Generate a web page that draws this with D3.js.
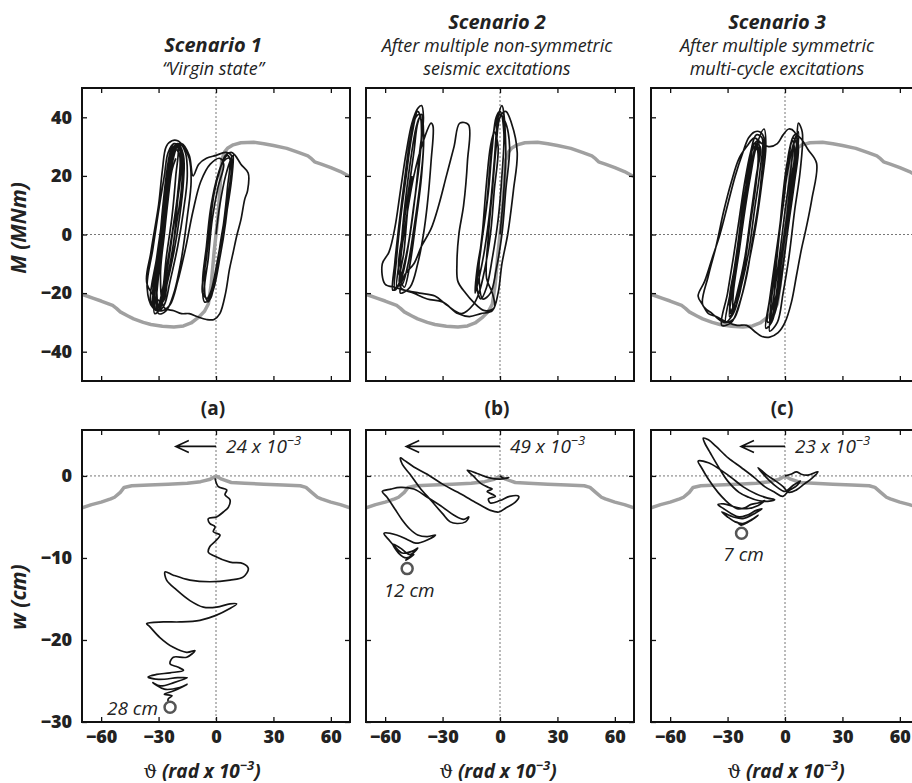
<!DOCTYPE html>
<html>
<head>
<meta charset="utf-8">
<script src="https://d3js.org/d3.v7.min.js"></script>
<style>
body { margin: 0; background: #fff; }
text { font-family: "Open Sans", sans-serif; fill: #222; }
</style>
</head>
<body>
<div id="chart"></div>
<script>
// ---------------- data ----------------
var thetaTicks = [-60, -30, 0, 30, 60];
var momentTicks = [-40, -20, 0, 20, 40];
var settleTicks = [-30, -20, -10, 0];

var scenarioNames = ["Scenario 1", "Scenario 2", "Scenario 3"];
var scenarioNotes = [
    ["\u201CVirgin state\u201D"],
    ["After multiple non-symmetric", "seismic excitations"],
    ["After multiple symmetric", "multi-cycle excitations"]
];
var panelLabels = ["(a)", "(b)", "(c)"];

// gray capacity envelope, theta vs M
var envelopeMoment = [[-70,-20.4],[-64,-21.8],[-60,-22.7],[-54,-24.2],[-52,-25.2],[-50,-26.4],[-46,-27.8],[-43,-28.8],
    [-38,-30.0],[-34,-30.7],[-28,-31.3],[-22,-31.6],[-17,-31.2],[-13,-30.2],[-9,-28.2],[-6,-26.2],[-4,-23.7],[-2.5,-17],
    [-1,-6],[0,0],[1,6],[2,15],[3,25.4],[4.5,28.2],[6,29.4],[9,30.6],[13,31.3],[19.6,31.5],[25,31.0],[30,30.4],[37,29.4],
    [43,28.0],[48,26.8],[50,25.8],[51.5,24.8],[55,24.0],[60,22.8],[65,21.5],[70,19.7]];

// gray settlement envelope, theta vs w
var envelopeSettle = [[-70,-3.9],[-65,-3.5],[-60,-3.2],[-55,-2.8],[-53,-2.6],[-50,-2.0],[-48,-1.4],[-44,-1.2],[-35,-1.1],
    [-25,-1.0],[-15,-0.9],[-8,-0.7],[-3,-0.4],[0,0],[3,-0.4],[8,-0.8],[15,-0.9],[25,-1.0],[35,-1.1],[44,-1.2],[47,-1.4],
    [50,-2.0],[53,-2.6],[55,-2.8],[60,-3.2],[65,-3.5],[70,-3.9]];

// moment-rotation loops, theta vs M
var loops1 = [[0,0],[2,10],[5,20],[8,26],[9,27],[8,18],[5,5],[2,-8],[-1,-18],[-4,-23],[-6,-20],[-4,-8],[-2,5],[1,16],[4,24],
    [2,26],[-3,24],[-8,18],[-12,8],[-16,-5],[-20,-16],[-24,-24],[-28,-26],[-33,-25],[-36,-18],
    [-33,-5],[-30,8],[-27,20],[-25,28],[-22,31],[-19,30],[-18,25],[-20,12],[-23,0],[-26,-12],[-29,-22],[-31,-26],[-33,-24],
    [-31,-12],[-28,2],[-26,15],[-24,26],[-22,30],[-20,31],[-17,27],[-17,18],[-19,6],[-22,-6],[-26,-18],[-29,-25],[-32,-27],
    [-32,-18],[-29,-4],[-27,10],[-25,22],[-23,29],[-19,31],[-16,28],[-15,20],[-17,8],[-20,-4],[-24,-16],[-27,-24],[-30,-26],
    [-34,-23],[-31,-8],[-28,6],[-26,18],[-24,27],[-21,30],[-18,28],[-18,16],[-21,2],[-24,-10],[-27,-20],[-30,-25],
    [-32,-22],[-30,-10],[-27,4],[-25,16],[-23,25],[-21,29],[-19,27],[-20,14],[-23,0],[-26,-14],[-29,-23],[-31,-26],
    [-33,-20],[-30,-6],[-28,8],[-26,20],[-24,28],[-22,31],[-20,30],[-21,20],[-23,6],[-26,-8],[-28,-20],[-30,-25],
    [-31,-16],[-29,-2],[-26,12],[-24,24],[-22,30],[-19,29],[-19,20],[-22,4],[-25,-10],[-28,-21],[-31,-25],
    [-30,-14],[-27,0],[-25,14],[-23,24],[-20,30],[-18,26],[-20,12],[-22,-2],[-25,-14],[-28,-23],
    [-36,-17],[-34,-6],[-30,10],[-28,22],[-26,30],[-23,32],[-20,32],[-17,30],[-14,26],[-13,18],[-15,6],[-18,-8],[-22,-20],
    [-26,-26],[-30,-27],[-31,-18],[-28,-4],[-26,10],[-24,22],[-22,29],[-18,31],[-14,27],[-12,20],[-9,24],[-5,26],[0,27],
    [5,28],[8,27],[7,16],[5,4],[2,-8],[-1,-17],[-3,-22],[-6,-23],[-7,-16],[-5,-4],[-3,8],[0,18],[3,24],[6,27],[8,24],[6,12],
    [3,0],[0,-12],[-3,-20],[-5,-22],[-6,-14],[-4,-2],[-2,10],[1,20],[4,25],[7,26],[6,16],[4,4],[1,-8],[-2,-18],[-4,-22],
    [-7,-20],[-5,-8],[-3,4],[-1,14],[2,22],[5,27],[8,28],[10,27],[13,24],[16.8,21],[16.5,15],[15,12],[13,5],[11,0],[9,-6],
    [7,-12],[5,-20],[2,-27],[-1,-29],[-5,-29],[-10,-28],[-14,-27],[-18,-27],[-22,-26],[-27,-25],[-29,-14],[-27,0],[-25,12],
    [-23,22],[-21,26]];

var loops2 = [[0,0],[2,15],[3,30],[1,44],[-1,40],[-3,25],[-5,10],[-8,-5],[-11,-15],[-13,-20],[-12,-12],[-9,0],[-6,15],
    [-4,30],[-2,40],[0,42],[2,35],[1,20],[-1,5],[-4,-8],[-7,-18],[-10,-22],[-12,-18],[-10,-5],[-7,10],[-5,25],[-3,36],[0,41],
    [3,38],[5,30],[3,15],[1,0],[-2,-12],[-5,-20],[-9,-22],[-11,-12],[-9,2],[-7,18],[-5,30],[-3,35],[-1,30],[-3,15],[-5,0],
    [-8,-12],[-11,-20],[-14,-24],[-20,-27],[-28,-24],[-34,-21],[-42,-20],[-50,-19],[-55,-18],[-60,-17],[-61.5,-10],[-58,-6],
    [-55,2],[-52,15],[-49,28],[-46,38],[-43,43],[-41,44],[-40,40],[-42,28],[-44,15],[-47,0],[-50,-10],[-53,-17],[-56,-19],
    [-55,-10],[-53,2],[-50,18],[-47,32],[-44,40],[-42,41],[-41,35],[-43,20],[-46,5],[-49,-8],[-52,-16],[-55,-19],
    [-54,-8],[-52,5],[-49,20],[-46,34],[-43,42],[-41,38],[-42,25],[-45,10],[-48,-4],[-51,-14],[-54,-18],
    [-52,-6],[-50,8],[-47,24],[-44,36],[-42,40],[-40,35],[-41,20],[-44,4],[-47,-10],[-50,-18],
    [-53,-12],[-51,0],[-48,14],[-45,28],[-43,38],[-41,41],[-40,30],[-42,16],[-45,2],[-48,-10],[-51,-17],
    [-52,-10],[-49,5],[-45,20],[-40,32],[-36,38],[-35,37],[-36,25],[-38,10],[-40,0],[-43,-10],[-47,-18],[-52,-20],
    [-50,-14],[-45,-10],[-41,-4],[-36,2],[-32,10],[-28,20],[-24,30],[-21,38],[-16.5,37.5],[-17,25],[-19,10],[-21.5,0],
    [-22.5,-10],[-22,-16],[-18,-20],[-14,-23],[-8,-26],[-3,-25],[-4,-20],[-7,-15],[-6,0],[-4,15],[-2,30],[0,40],[3,42],
    [6,38],[9,28],[7,15],[4,0],[1,-10],[-1,-20],[-4,-26],[-10,-27],[-16,-28],[-22,-27],[-30,-23],[-38,-22],[-45,-20],
    [-52,-18],[-50,-5],[-48,10],[-46,20]];

var loops3 = [[0,0],[3,18],[6,30],[7,38],[9,35],[8,22],[5,8],[2,-8],[-1,-20],[-4,-30],[-8,-33],[-6,-22],[-3,-8],[0,8],
    [3,22],[5,32],[7,35],[6,24],[3,10],[0,-6],[-3,-20],[-6,-28],[-9,-30],[-7,-18],[-4,-4],[-1,12],[2,26],[4,33],[6,31],
    [4,18],[1,4],[-2,-10],[-5,-24],[-8,-30],[-6,-16],[-3,0],[0,15],[2,28],[5,34],[8,33],[12,29],[16.5,24.3],[14,12],[11,2],
    [8.6,-5],[6,-14],[3.4,-23],[0,-30],[-3.6,-33.5],[-8,-35],[-12.3,-34.7],[-16,-33],[-20,-31],[-25,-31],[-30,-30],
    [-36,-28],[-40,-27],[-43,-24],[-45.4,-21],[-42,-16],[-38,-8],[-34,0],[-30,10],[-26,20],[-22,28],[-19,33],[-16,35],
    [-13,35],[-11,33],[-12,22],[-14,10],[-17,-2],[-20,-14],[-24,-24],[-28,-30],[-33,-31],
    [-30,-20],[-27,-8],[-24,5],[-21,18],[-18,28],[-15,34],[-12,33],[-13,22],[-16,8],[-19,-6],[-23,-18],[-27,-27],[-31,-30],
    [-28,-18],[-25,-5],[-22,10],[-19,22],[-17,30],[-14,32],[-14,24],[-17,10],[-20,-4],[-23,-16],[-26,-25],[-29,-28],
    [-26,-14],[-23,0],[-20,14],[-18,25],[-16,31],[-13,30],[-15,20],[-18,6],[-21,-8],[-25,-20],[-28,-27],
    [-29,-22],[-26,-10],[-23,4],[-20,16],[-17,26],[-15,31],[-14,26],[-16,14],[-19,0],[-22,-12],[-26,-23],[-29,-27],
    [-27,-16],[-24,-2],[-21,12],[-19,24],[-16,30],[-14,28],[-15,18],[-18,4],[-21,-10],[-24,-21],[-27,-26],
    [-27,-20],[-24,-6],[-21,8],[-18,20],[-15,30],[-11,36],[-10,30],[-12,18],[-15,4],[-19,-10],[-23,-22],[-27,-29],[-32,-30],
    [-38,-27],[-43,-24],[-40,-14],[-36,-4],[-32,8],[-28,18],[-24,26],[-20,30],[-16,33],[-12,31],[-8,30],[-4,31],[-1,34],
    [2,36],[5,35],[7,30],[5,18],[2,4],[-1,-10],[-4,-22],[-7,-30],[-10,-32],[-8,-22],[-5,-8],[-2,6],[1,20],[4,30],[6,34],
    [5,24],[2,10],[-1,-4],[-4,-18],[-6,-26],[-5,-14],[-3,0],[-1,14],[1,24],[4,32],[5,28],[3,16],[0,2],[-3,-12],[-5,-22],
    [-7,-26]];

// settlement-rotation paths, theta vs w
var settle1 = [[-0.5,-0.3],[1.2,-1.3],[5.6,-1.7],[4.7,-2.3],[7.3,-2.9],[6.5,-3.8],[3.8,-4.4],[0.3,-5.0],[-4.0,-5.2],
    [-3.2,-5.8],[-0.5,-6.2],[-1.4,-6.8],[2.1,-7.2],[-0.5,-8.0],[-3.2,-8.6],[-4.0,-9.3],[-1.4,-9.7],[7.3,-10.5],[14.3,-10.7],
    [16.9,-11.3],[14.3,-12.3],[7.3,-12.7],[-3.2,-12.9],[-13.6,-12.7],[-22.3,-12.1],[-26.6,-11.7],[-25.8,-12.7],[-20.6,-13.9],
    [-13.6,-15.2],[-6.6,-16.0],[0.3,-16.0],[7.3,-15.6],[10.8,-15.6],[7,-16.2],[0,-17.0],[-8.4,-17.6],[-18.8,-17.8],
    [-27.5,-17.8],[-36.2,-18.0],[-34.5,-18.4],[-29.3,-19.7],[-22.3,-20.9],[-15.3,-21.5],[-11,-21.3],[-15.3,-22.1],
    [-22.3,-22.1],[-24,-22.9],[-20,-23.3],[-17,-23.7],[-24,-24],[-31,-24.2],[-35.5,-24.5],[-30,-24.8],[-20,-24.6],
    [-15,-24.6],[-22,-25.2],[-29,-25.6],[-33,-25.2],[-27,-26],[-19,-25.8],[-15,-25.4],[-22,-26.2],[-27,-26.6],[-23,-26.8],
    [-25,-27.2],[-25,-27.5]];

var settle2 = [[0,0],[2,-0.3],[4.6,-0.2],[0,-0.4],[-6,-0.2],[-12,0.3],[-17.1,0.7],[-14,0],[-10.1,-0.9],[-6,-1.4],
    [-4.1,-1.6],[-6.7,-1.9],[-3.5,-2.3],[-2.4,-2.5],[-6,-2.8],[-5,-3.3],[0,-3.0],[5,-2.5],[9.8,-2.5],[8,-3.2],[3,-3.9],
    [-0.6,-4.4],[-5,-4.2],[-13,-3.2],[-22,-2.0],[-30,-1.0],[-38,0.2],[-45,1.1],[-50,1.9],[-52,2.2],[-51,1.4],[-47,0.2],
    [-42,-1.4],[-36,-3.0],[-30,-4.6],[-26,-5.6],[-22.4,-5.8],[-18,-5.6],[-16.3,-5.0],[-19,-5.3],[-24,-4.8],[-30,-3.8],
    [-38,-2.6],[-45,-1.6],[-52,-1.4],[-57,-1.6],[-61.5,-1.9],[-59,-2.6],[-55,-4.0],[-51,-5.4],[-47,-6.5],[-43,-7.2],
    [-38,-7.4],[-33.7,-7.2],[-38,-7.8],[-44,-8.2],[-48,-7.8],[-54,-7.2],[-60.6,-7.0],[-58,-7.8],[-55,-8.6],[-51,-9.4],
    [-46,-9.2],[-43,-8.8],[-47,-9.6],[-52,-8.8],[-56,-8.3],[-53,-9.4],[-49,-10.0],[-45,-9.6],[-48,-10.1],[-49.5,-10.3]];

var settle3 = [[0,0],[3,0.2],[6,0.5],[8.5,0.2],[12,0.1],[17.2,0.5],[14,-0.3],[10,-1.0],[6,-1.7],[2,-2.0],[-1,-1.3],
    [-5,-0.6],[-8.9,0],[-12,0.6],[-14.1,1.0],[-12,0.4],[-8,-0.6],[-4,-1.4],[0,-1.9],[4,-1.2],[8,-0.6],[6,-1.2],[2,-1.8],
    [-1.1,-2.5],[-5.4,-2.0],[-10.6,-1.3],[-16,-0.2],[-22.7,1.0],[-29.7,2.2],[-36,3.6],[-40,4.4],[-42.7,4.6],[-41.9,4.0],
    [-39,2.8],[-35,1.2],[-30,-0.6],[-24,-2.0],[-19,-2.6],[-14,-3.0],[-9,-3.1],[-5.4,-2.9],[-9,-2.7],[-15,-2.2],[-22,-1.3],
    [-28,-0.2],[-34,0.8],[-40,1.6],[-45.4,1.8],[-43.6,1.0],[-40,-0.4],[-35,-2.0],[-31,-3.0],[-28,-3.6],[-25,-4.0],[-21,-3.9],
    [-18,-3.5],[-14,-3.3],[-10.6,-3.0],[-14,-3.6],[-20,-4.0],[-26,-3.8],[-32,-3.4],[-35,-3.5],[-32,-4.0],[-28,-4.6],
    [-24,-5.0],[-20,-4.8],[-15,-4.2],[-12,-4.0],[-16,-4.6],[-22,-5.2],[-27,-5.0],[-33,-4.4],[-30,-5.0],[-26,-5.6],
    [-22,-5.8],[-18,-5.4],[-14,-4.8],[-19,-5.6],[-23,-6.0],[-25,-5.6],[-22.7,-6.0]];

// max rotation arrows and residual settlement
var arrowTip = [-21, -49, -23];
var arrowLabel = ["24", "49", "23"];
var residualTheta = [-24, -48.5, -22.7];
var residualSettle = [-28.2, -11.3, -7.0];
var residualLabel = ["28 cm", "12 cm", "7 cm"];

var loopSets = [loops1, loops2, loops3];
var settleSets = [settle1, settle2, settle3];

// ---------------- drawing ----------------
var svg = d3.select("#chart").append("svg")
    .attr("width", 912)
    .attr("height", 783);

var panelLeft = [82, 366, 651];
var panelWidth = 268;

Panel = function(_svg, _id, _left, _top, _height, _yDomain, _yTicks, _showY, _showX){
    this.svg = _svg;
    this.id = _id;
    this.left = _left;
    this.top = _top;
    this.height = _height;
    this.yDomain = _yDomain;
    this.yTicks = _yTicks;
    this.showY = _showY;
    this.showX = _showX;
    this.initVis();
};

Panel.prototype.initVis = function(){
    var vis = this;
    vis.width = panelWidth;

    vis.g = vis.svg.append("g")
        .attr("transform", "translate(" + vis.left + "," + vis.top + ")");

    vis.x = d3.scaleLinear().domain([-70, 70]).range([0, vis.width]);
    vis.y = d3.scaleLinear().domain(vis.yDomain).range([vis.height, 0]);

    vis.g.append("clipPath").attr("id", "clip" + vis.id)
        .append("rect").attr("width", vis.width).attr("height", vis.height);

    vis.plot = vis.g.append("g").attr("clip-path", "url(#clip" + vis.id + ")");

    // dotted zero lines
    vis.plot.append("line")
        .attr("x1", vis.x(0)).attr("x2", vis.x(0))
        .attr("y1", 0).attr("y2", vis.height)
        .style("stroke", "#777").style("stroke-width", 1).style("stroke-dasharray", "2,2");
    vis.plot.append("line")
        .attr("x1", 0).attr("x2", vis.width)
        .attr("y1", vis.y(0)).attr("y2", vis.y(0))
        .style("stroke", "#777").style("stroke-width", 1).style("stroke-dasharray", "2,2");

    // axes with inward ticks
    var xb = d3.axisBottom(vis.x).tickValues(thetaTicks).tickSize(-5).tickPadding(8);
    if (!vis.showX) xb.tickFormat("");
    vis.xAxis = vis.g.append("g").attr("class", "x axis")
        .attr("transform", "translate(0," + vis.height + ")").call(xb);
    vis.g.append("g").call(d3.axisTop(vis.x).tickValues(thetaTicks).tickSize(-5).tickFormat(""));

    var yl = d3.axisLeft(vis.y).tickValues(vis.yTicks).tickSize(-5).tickPadding(10);
    if (!vis.showY) yl.tickFormat("");
    vis.yAxis = vis.g.append("g").attr("class", "y axis").call(yl);
    vis.g.append("g").attr("transform", "translate(" + vis.width + ",0)")
        .call(d3.axisRight(vis.y).tickValues(vis.yTicks).tickSize(-5).tickFormat(""));

    vis.g.selectAll(".domain").remove();
    vis.g.selectAll(".tick line").style("stroke", "#111").style("stroke-width", 1.3);
    vis.g.selectAll(".tick text")
        .style("font-family", "'Open Sans', sans-serif")
        .style("font-weight", "800")
        .style("font-size", "18px")
        .style("fill", "#222");

    vis.g.append("rect")
        .attr("width", vis.width).attr("height", vis.height)
        .style("fill", "none").style("stroke", "#111").style("stroke-width", 2);

    vis.line = d3.line()
        .x(function(d){ return vis.x(d[0]); })
        .y(function(d){ return vis.y(d[1]); });
};

Panel.prototype.drawLine = function(data, color, width, curve){
    var vis = this;
    vis.line.curve(curve);
    vis.plot.append("path")
        .datum(data)
        .attr("d", vis.line)
        .style("fill", "none")
        .style("stroke", color)
        .style("stroke-width", width)
        .style("stroke-linejoin", "round");
};

var axisTitleX = [202, 498, 786];

for (var i = 0; i < 3; i++) {
    var tp = new Panel(svg, "t" + i, panelLeft[i], 88, 293, [-50, 50], momentTicks, i === 0, false);
    tp.drawLine(envelopeMoment, "#a0a0a0", 3.5, d3.curveLinear);
    tp.drawLine(loopSets[i], "#141414", 1.7, d3.curveCatmullRom.alpha(0.5));

    var bp = new Panel(svg, "b" + i, panelLeft[i], 430, 292, [-30, 5.6], settleTicks, i === 0, true);
    bp.drawLine(envelopeSettle, "#a0a0a0", 3.5, d3.curveLinear);
    bp.drawLine(settleSets[i], "#141414", 1.7, d3.curveCatmullRom.alpha(0.5));

    // arrow for max rotation
    var ay = bp.y(3.6);
    bp.g.append("path")
        .attr("d", "M" + bp.x(0) + "," + ay + "L" + bp.x(arrowTip[i]) + "," + ay +
            "M" + (bp.x(arrowTip[i]) + 13) + "," + (ay - 6) + "L" + bp.x(arrowTip[i]) + "," + ay +
            "L" + (bp.x(arrowTip[i]) + 13) + "," + (ay + 6))
        .style("fill", "none").style("stroke", "#111").style("stroke-width", 1.6);
    var lab = bp.g.append("text")
        .attr("x", bp.x(0) + 10).attr("y", ay + 7)
        .style("font-style", "italic").style("font-size", "19px");
    lab.append("tspan").text(arrowLabel[i] + " x 10");
    lab.append("tspan").attr("dy", -8).style("font-size", "13px").text("\u22123");

    // residual settlement marker
    var cx = bp.x(residualTheta[i]), cy = bp.y(residualSettle[i]);
    bp.g.append("circle")
        .attr("cx", cx).attr("cy", cy).attr("r", 5.5)
        .style("fill", "none").style("stroke", "#555").style("stroke-width", 2.5);
    if (i === 0) {
        bp.g.append("text").attr("x", cx - 12).attr("y", cy + 8)
            .attr("text-anchor", "end")
            .style("font-style", "italic").style("font-size", "19px")
            .text(residualLabel[i]);
    } else {
        bp.g.append("text").attr("x", cx + 2).attr("y", cy + 28)
            .attr("text-anchor", "middle")
            .style("font-style", "italic").style("font-size", "19px")
            .text(residualLabel[i]);
    }

    // x axis title
    var xt = svg.append("text")
        .attr("x", axisTitleX[i]).attr("y", 778)
        .attr("text-anchor", "middle")
        .style("font-weight", "bold").style("font-style", "italic").style("font-size", "19px");
    xt.append("tspan").style("font-family", "'DejaVu Serif', serif").style("font-weight", "normal")
        .style("font-style", "normal").text("\u03D1");
    xt.append("tspan").text(" (rad x 10");
    xt.append("tspan").attr("dy", -8).style("font-size", "13px").text("\u22123");
    xt.append("tspan").attr("dy", 8).text(")");

    // panel label
    svg.append("text")
        .attr("x", panelLeft[i] + panelWidth / 2 - 3).attr("y", 415)
        .attr("text-anchor", "middle")
        .style("font-weight", "bold").style("font-size", "19px")
        .text(panelLabels[i]);
}

// scenario titles
var titleX = [213, 497, 777];
for (var j = 0; j < 3; j++) {
    var notes = scenarioNotes[j];
    var y0 = 75 - notes.length * 23;
    svg.append("text")
        .attr("x", titleX[j]).attr("y", y0)
        .attr("text-anchor", "middle")
        .style("font-weight", "bold").style("font-style", "italic").style("font-size", "20px")
        .text(scenarioNames[j]);
    notes.forEach(function(t, k){
        svg.append("text")
            .attr("x", titleX[j]).attr("y", y0 + 23 * (k + 1))
            .attr("text-anchor", "middle")
            .style("font-style", "italic").style("font-size", "18px")
            .text(t);
    });
}

// y axis titles
svg.append("text")
    .attr("transform", "translate(26,228) rotate(-90)")
    .attr("text-anchor", "middle")
    .style("font-weight", "bold").style("font-style", "italic").style("font-size", "21px")
    .text("M (MNm)");
svg.append("text")
    .attr("transform", "translate(26,597) rotate(-90)")
    .attr("text-anchor", "middle")
    .style("font-weight", "bold").style("font-style", "italic").style("font-size", "21px")
    .text("w (cm)");
</script>
</body>
</html>
